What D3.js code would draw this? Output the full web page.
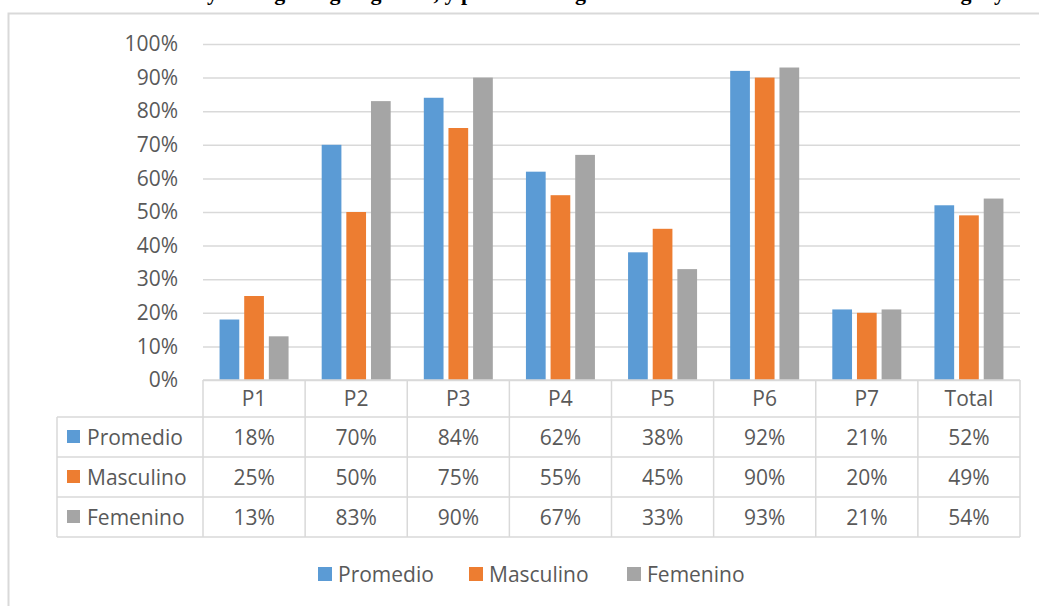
<!DOCTYPE html>
<html>
<head>
<meta charset="utf-8">
<script src="https://cdn.jsdelivr.net/npm/d3@7"></script>
<style>
  body { margin: 0; background: #fff; }
  svg { display: block; }
  text { font-family: "Open Sans", sans-serif; fill: #595959; }
</style>
</head>
<body>
<svg id="chart" width="1039" height="606"></svg>
<script>
// data
const categories = ["P1", "P2", "P3", "P4", "P5", "P6", "P7", "Total"];
const seriesNames = ["Promedio", "Masculino", "Femenino"];
const promedio = [18, 70, 84, 62, 38, 92, 21, 52];
const masculino = [25, 50, 75, 55, 45, 90, 20, 49];
const femenino = [13, 83, 90, 67, 33, 93, 21, 54];
const yTicks = [0, 10, 20, 30, 40, 50, 60, 70, 80, 90, 100];
const colors = ["#5b9bd5", "#ed7d31", "#a5a5a5"];

const seriesValues = [promedio, masculino, femenino];

const svg = d3.select("#chart");
const plotLeft = 203, plotRight = 1020, plotTop = 44, plotBottom = 380;
const gridColor = "#d9d9d9";

// title line of the page above, cut off at the top of the picture
svg.append("text")
    .attr("x", 207)
    .attr("y", 0)
    .style("font-family", "'Liberation Serif', serif")
    .style("font-weight", "bold")
    .style("font-size", "22px")
    .style("fill", "#000")
    .text("y del logro según género, y promedio según sexo de estudiantes del curso del colegio y");

// outer chart frame
svg.append("path")
    .attr("d", "M8.5,606 L8.5,13.5 L1039,13.5")
    .attr("fill", "none")
    .attr("stroke", "#d9d9d9")
    .attr("stroke-width", 2);

const x = d3.scaleBand()
            .domain(categories)
            .range([plotLeft, plotRight]);

const xInner = d3.scaleBand()
            .domain(seriesNames)
            .range([-34.5, 34.5])
            .paddingInner(0.2);

const y = d3.scaleLinear()
            .domain([0, 100])
            .range([plotBottom, plotTop]);

// gridlines
let grid = d3.axisLeft(y)
            .tickValues(yTicks)
            .tickSize(plotLeft - plotRight)
            .tickFormat("");
svg.append("g")
    .attr("transform", "translate(" + plotLeft + ",0)")
    .call(grid)
    .call(g => g.select(".domain").remove())
    .selectAll("line")
    .attr("stroke", gridColor)
    .attr("stroke-width", 1.5);

// y labels
let yAxis = d3.axisLeft(y)
            .tickValues(yTicks)
            .tickSize(0)
            .tickPadding(0)
            .tickFormat(d => d + "%");
svg.append("g")
    .attr("transform", "translate(178,0)")
    .call(yAxis)
    .call(g => g.select(".domain").remove())
    .selectAll("text")
    .style("font-size", "21px")
    .style("font-family", "'Open Sans', sans-serif")
    .attr("fill", "#595959");

// bars
seriesNames.forEach((s, si) => {
    svg.append("g")
        .selectAll("rect")
        .data(seriesValues[si])
        .join("rect")
        .attr("x", (d, i) => x(categories[i]) + x.bandwidth() / 2 + xInner(s))
        .attr("width", xInner.bandwidth())
        .attr("y", d => y(d))
        .attr("height", d => plotBottom - y(d))
        .attr("fill", colors[si]);
});

// data table
const rowH = 40;
const headerTop = plotBottom, headerBottom = 417;
const tableLeft = 57;
const table = svg.append("g").attr("stroke", gridColor).attr("stroke-width", 1.5);

// horizontal lines
table.append("line").attr("x1", plotLeft).attr("x2", plotRight).attr("y1", headerTop).attr("y2", headerTop);
for (let r = 0; r <= seriesNames.length; r++) {
    let yy = headerBottom + r * rowH;
    table.append("line").attr("x1", tableLeft).attr("x2", plotRight).attr("y1", yy).attr("y2", yy);
}
// vertical lines
table.append("line").attr("x1", tableLeft).attr("x2", tableLeft)
    .attr("y1", headerBottom).attr("y2", headerBottom + seriesNames.length * rowH);
categories.concat(["end"]).forEach((c, i) => {
    let xx = plotLeft + i * x.bandwidth();
    table.append("line").attr("x1", xx).attr("x2", xx)
        .attr("y1", headerTop).attr("y2", headerBottom + seriesNames.length * rowH);
});

// header labels
svg.append("g")
    .selectAll("text")
    .data(categories)
    .join("text")
    .attr("x", d => x(d) + x.bandwidth() / 2)
    .attr("y", 406)
    .style("text-anchor", "middle")
    .style("font-size", "21px")
    .text(d => d);

// rows
seriesNames.forEach((s, si) => {
    let baseY = headerBottom + si * rowH + 28;
    let row = svg.append("g");
    row.append("rect")
        .attr("x", 67).attr("y", baseY - 15)
        .attr("width", 13).attr("height", 13)
        .attr("fill", colors[si]);
    row.append("text")
        .attr("x", 87).attr("y", baseY)
        .style("font-size", "21px")
        .text(s);
    row.selectAll("text.val")
        .data(seriesValues[si])
        .join("text")
        .attr("class", "val")
        .attr("x", (d, i) => x(categories[i]) + x.bandwidth() / 2)
        .attr("y", baseY)
        .style("text-anchor", "middle")
        .style("font-size", "21px")
        .text(d => d + "%");
});

// legend
const legendX = [318, 469, 627];
const legend = svg.append("g");
seriesNames.forEach((s, si) => {
    legend.append("rect")
        .attr("x", legendX[si]).attr("y", 567)
        .attr("width", 14).attr("height", 14)
        .attr("fill", colors[si]);
    legend.append("text")
        .attr("x", legendX[si] + 20).attr("y", 582)
        .style("font-size", "21px")
        .text(s);
});
</script>
</body>
</html>
